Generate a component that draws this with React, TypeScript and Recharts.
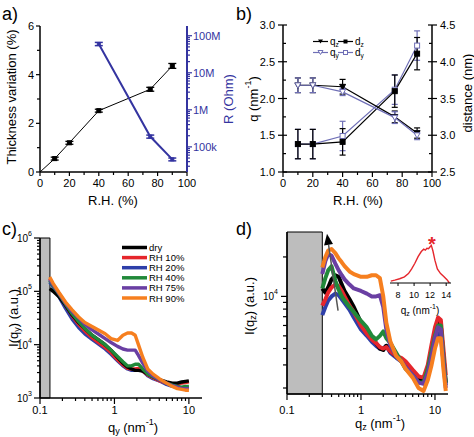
import React from 'react';
import { ComposedChart, LineChart, Line, XAxis, YAxis, ErrorBar, ReferenceArea, ReferenceLine } from 'recharts';

const W = 474;
const H = 437;
const FONT = '"Liberation Sans", Arial, Helvetica, sans-serif';

// ---------------- Panel a ----------------
const RH_A = [0, 10, 20, 40, 75, 90];
const THICKNESS = [0, 0.55, 1.2, 2.52, 3.4, 4.36];
const THICKNESS_ERR = [0, 0.06, 0.06, 0.06, 0.08, 0.1];
const RH_R = [40, 75, 90];
const RESISTANCE = [6.0e7, 1.9e5, 4.6e4];
const RESISTANCE_ERR = [6e6, 1.8e4, 4e3];
const A_X_TICKS = [0, 10, 20, 30, 40, 50, 60, 70, 80, 90, 100];
const A_Y_TICKS = [0, 1, 2, 3, 4, 5, 6];
const R_TICK_LABELS = ['100k', '1M', '10M', '100M'];

// ---------------- Panel b ----------------
const RH_B = [10, 20, 40, 75, 90];
const QZ = [2.18, 2.18, 2.16, 1.75, 1.53];
const QZ_ERR = [0.1, 0.1, 0.1, 0.08, 0.07];
const QY = [2.18, 2.18, 2.09, 1.74, 1.5];
const QY_ERR = [0.1, 0.1, 0.05, 0.08, 0.06];
const DZ = [2.88, 2.88, 2.91, 3.6, 4.11];
const DZ_ERR = [0.2, 0.2, 0.18, 0.22, 0.22];
const DY = [2.88, 2.88, 2.99, 3.62, 4.22];
const DY_ERR = [0.2, 0.2, 0.2, 0.2, 0.2];
const B_X_TICKS = [0, 10, 20, 30, 40, 50, 60, 70, 80, 90, 100];
const B_Q_TICKS = [1, 1.25, 1.5, 1.75, 2, 2.25, 2.5, 2.75, 3];
const B_D_TICKS = [2.5, 2.75, 3, 3.25, 3.5, 3.75, 4, 4.25, 4.5];

// ---------------- Panel c ----------------
const C_Q = [0.135, 0.15, 0.18, 0.22, 0.27, 0.33, 0.4, 0.5, 0.6, 0.75, 0.9, 1.1, 1.3, 1.5, 1.7, 1.9, 2.1, 2.4, 2.8, 3.3, 4, 5, 6, 7, 8, 9, 10];
const C_DRY = [1.12e5, 1.0e5, 7.9e4, 5.5e4, 3.6e4, 2.6e4, 2.0e4, 1.5e4, 1.26e4, 1.0e4, 7.9e3, 5.8e3, 4.5e3, 3.8e3, 3.5e3, 3.3e3, 3.3e3, 3.2e3, 2.8e3, 2.5e3, 2.2e3, 2.0e3, 1.9e3, 1.9e3, 2.0e3, 2.05e3, 2.1e3];
const C_RH10 = [1.74e5, 1.32e5, 8.9e4, 5.5e4, 3.5e4, 2.4e4, 1.8e4, 1.35e4, 1.12e4, 8.9e3, 7.1e3, 5.2e3, 4.2e3, 3.6e3, 3.5e3, 3.5e3, 3.6e3, 3.2e3, 2.7e3, 2.4e3, 2.1e3, 1.9e3, 1.8e3, 1.85e3, 1.9e3, 1.95e3, 2.0e3];
const C_RH20 = [1.5e5, 1.2e5, 7.9e4, 4.8e4, 3.0e4, 2.1e4, 1.6e4, 1.26e4, 1.05e4, 8.3e3, 6.6e3, 5.0e3, 4.0e3, 3.5e3, 3.3e3, 3.3e3, 3.5e3, 3.2e3, 2.6e3, 2.3e3, 2.1e3, 1.8e3, 1.65e3, 1.6e3, 1.55e3, 1.55e3, 1.55e3];
const C_RH40 = [1.6e5, 1.26e5, 8.9e4, 5.8e4, 3.8e4, 2.7e4, 2.0e4, 1.5e4, 1.26e4, 1.0e4, 7.9e3, 6.0e3, 4.8e3, 4.0e3, 4.0e3, 4.3e3, 4.3e3, 3.5e3, 2.8e3, 2.5e3, 2.2e3, 1.9e3, 1.75e3, 1.65e3, 1.6e3, 1.65e3, 1.65e3];
const C_RH75 = [1.66e5, 1.32e5, 9.1e4, 6.0e4, 4.2e4, 3.2e4, 2.4e4, 1.9e4, 1.6e4, 1.3e4, 1.1e4, 9.3e3, 8.3e3, 7.9e3, 7.9e3, 7.9e3, 6.3e3, 4.5e3, 3.2e3, 2.6e3, 2.2e3, 1.9e3, 1.7e3, 1.6e3, 1.5e3, 1.5e3, 1.5e3];
const C_RH90 = [1.86e5, 1.41e5, 9.5e4, 6.3e4, 4.5e4, 3.3e4, 2.6e4, 2.2e4, 1.9e4, 1.6e4, 1.3e4, 1.2e4, 1.5e4, 1.65e4, 1.65e4, 1.5e4, 1.0e4, 5.8e3, 3.5e3, 2.8e3, 2.3e3, 1.9e3, 1.65e3, 1.5e3, 1.45e3, 1.4e3, 1.4e3];

// ---------------- Panel d ----------------
const D_Q = [0.3, 0.33, 0.36, 0.4, 0.45, 0.5, 0.55, 0.6, 0.7, 0.8, 1.0, 1.2, 1.4, 1.6, 1.8, 2.0, 2.2, 2.5, 3, 3.5, 4, 5, 6, 7, 8, 9, 10, 11, 12, 13, 14];
const D_DRY = [1.15e4, 1.07e4, 1.17e4, 1.35e4, 1.45e4, 1.41e4, 1.23e4, 1.1e4, 9.5e3, 8.3e3, 6.3e3, 5.4e3, 4.8e3, 4.4e3, 4.0e3, 3.9e3, 4.2e3, 3.8e3, 3.5e3, 3.3e3, 3.0e3, 2.6e3, 2.35e3, 2.3e3, 2.8e3, 4.0e3, 5.2e3, 6.3e3, 6.0e3, 3.5e3, 2.2e3];
const D_RH10 = [8.5e3, 9.5e3, 1.07e4, 1.17e4, 1.23e4, 1.2e4, 1.1e4, 1.0e4, 8.5e3, 7.6e3, 6.0e3, 5.2e3, 4.7e3, 4.4e3, 4.1e3, 4.0e3, 4.1e3, 3.8e3, 3.5e3, 3.4e3, 3.2e3, 2.75e3, 2.45e3, 2.4e3, 3.0e3, 4.3e3, 5.8e3, 6.9e3, 6.6e3, 4.0e3, 2.5e3];
const D_RH20 = [7.2e3, 8.3e3, 9.3e3, 1.0e4, 1.05e4, 1.02e4, 9.5e3, 8.9e3, 7.9e3, 6.9e3, 5.6e3, 5.0e3, 4.5e3, 4.2e3, 4.0e3, 4.0e3, 4.2e3, 3.7e3, 3.4e3, 3.2e3, 2.95e3, 2.6e3, 2.35e3, 2.3e3, 2.75e3, 3.6e3, 4.6e3, 5.2e3, 5.0e3, 3.2e3, 2.1e3];
const D_RH40 = [1.15e4, 1.38e4, 1.58e4, 1.7e4, 1.32e4, 1.12e4, 1.0e4, 9.3e3, 8.3e3, 7.6e3, 6.5e3, 5.8e3, 5.0e3, 4.7e3, 5.0e3, 5.4e3, 4.8e3, 4.4e3, 3.7e3, 3.2e3, 2.8e3, 2.5e3, 2.2e3, 2.2e3, 2.8e3, 3.8e3, 5.0e3, 6.0e3, 6.0e3, 3.5e3, 2.2e3];
const D_RH75 = [1.48e4, 1.86e4, 2.1e4, 2.05e4, 1.78e4, 1.58e4, 1.45e4, 1.35e4, 1.23e4, 1.15e4, 1.1e4, 1.05e4, 1.0e4, 1.0e4, 1.02e4, 8.3e3, 5.6e3, 4.2e3, 3.5e3, 3.2e3, 2.9e3, 2.5e3, 2.2e3, 2.15e3, 2.6e3, 3.5e3, 4.8e3, 5.8e3, 5.6e3, 3.2e3, 2.0e3];
const D_RH90 = [1.66e4, 2.0e4, 2.24e4, 2.3e4, 2.14e4, 1.95e4, 1.82e4, 1.7e4, 1.55e4, 1.48e4, 1.41e4, 1.41e4, 1.45e4, 1.45e4, 1.38e4, 1.0e4, 6.3e3, 4.5e3, 3.5e3, 3.2e3, 2.8e3, 2.4e3, 2.0e3, 1.9e3, 2.3e3, 3.0e3, 4.0e3, 4.8e3, 4.8e3, 2.8e3, 1.9e3];

// inset of d
const INSET_Q = [7.1, 7.6, 8.2, 8.8, 9.3, 9.7, 10.1, 10.5, 10.9, 11.2, 11.4, 11.6, 11.8, 12.0, 12.15, 12.35, 12.6, 12.9, 13.3, 13.7, 14.1, 14.4];
const INSET_I = [0.04, 0.06, 0.09, 0.13, 0.2, 0.3, 0.42, 0.56, 0.67, 0.72, 0.7, 0.74, 0.73, 0.77, 0.8, 0.68, 0.48, 0.3, 0.2, 0.14, 0.07, 0.0];
const INSET_X_TICKS = [8, 10, 12, 14];
const INSET_Y_TICKS = [0.12, 0.26, 0.4, 0.54, 0.68, 0.82, 0.96];

const SERIES = [
  { key: 'dry', name: 'dry', color: '#000000' },
  { key: 'rh10', name: 'RH 10%', color: '#e5262c' },
  { key: 'rh20', name: 'RH 20%', color: '#2e3fa9' },
  { key: 'rh40', name: 'RH 40%', color: '#21893a' },
  { key: 'rh75', name: 'RH 75%', color: '#6a3fa3' },
  { key: 'rh90', name: 'RH 90%', color: '#f67f1f' },
];

const BLUE_A = '#3434a0';
const BLUE_B = '#6f6fb6';

// ---------- helpers ----------
function logTicks(lo: number, hi: number): number[] {
  const out: number[] = [];
  for (let e = Math.floor(Math.log10(lo)); e <= Math.ceil(Math.log10(hi)); e++) {
    for (let m = 1; m <= 9; m++) {
      const v = m * Math.pow(10, e);
      if (v >= lo * 0.999 && v <= hi * 1.001) out.push(v);
    }
  }
  return out;
}
const isPow10 = (v: number) => Math.abs(Math.log10(v) - Math.round(Math.log10(v))) < 1e-6;

type Side = 'left' | 'right' | 'bottom' | 'top';
interface TickCfg {
  side: Side;
  isMajor: (v: number) => boolean;
  label?: (v: number) => React.ReactNode;
  majorOut?: number;
  majorIn?: number;
  minorOut?: number;
  minorIn?: number;
  labelOffset?: number;
  color?: string;
  fontSize?: number;
  strokeWidth?: number;
}
function makeTick(cfg: TickCfg) {
  const {
    side, isMajor, label, majorOut = 5, majorIn = 0, minorOut = 3, minorIn = 0,
    labelOffset = 8, color = '#000', fontSize = 11, strokeWidth = 1.2,
  } = cfg;
  return (props: any) => {
    const x = Number(props.x);
    const y = Number(props.y);
    const v = Number(props.payload?.value);
    const maj = isMajor(v);
    const o = maj ? majorOut : minorOut;
    const i = maj ? majorIn : minorIn;
    const lab = maj && label ? label(v) : null;
    let line: React.ReactNode = null;
    let text: React.ReactNode = null;
    if (side === 'left') {
      line = <line x1={x - o} x2={x + i} y1={y} y2={y} />;
      if (lab !== null) text = <text x={x - labelOffset} y={y} textAnchor="end" dominantBaseline="central">{lab}</text>;
    } else if (side === 'right') {
      line = <line x1={x - i} x2={x + o} y1={y} y2={y} />;
      if (lab !== null) text = <text x={x + labelOffset} y={y} textAnchor="start" dominantBaseline="central">{lab}</text>;
    } else if (side === 'bottom') {
      line = <line x1={x} x2={x} y1={y - i} y2={y + o} />;
      if (lab !== null) text = <text x={x} y={y + labelOffset} textAnchor="middle" dominantBaseline="central">{lab}</text>;
    } else {
      line = <line x1={x} x2={x} y1={y - o} y2={y + i} />;
    }
    return (
      <g>
        <g stroke={color} strokeWidth={strokeWidth}>{line}</g>
        {text ? <g fill={color} stroke="none" fontSize={fontSize} fontFamily={FONT}>{text}</g> : null}
      </g>
    );
  };
}

const pow10Label = (v: number) => {
  const e = Math.round(Math.log10(v));
  return (
    <>
      <tspan>10</tspan>
      <tspan dy={-5} fontSize={7}>{e}</tspan>
    </>
  );
};
const qLabel = (v: number) => (v < 1 ? String(Math.round(v * 10) / 10) : String(Math.round(v)));

const squareDot = (color: string, size: number, open: boolean) => (p: any) => {
  if (p.cx == null || p.cy == null || (p.payload && p.payload.hideDot)) return <g key={`sd${p.index}`} />;
  return (
    <rect key={`sd${p.index}`} x={p.cx - size / 2} y={p.cy - size / 2} width={size} height={size}
      fill={open ? '#fff' : color} stroke={color} strokeWidth={1} />
  );
};
const triDot = (color: string, size: number, open: boolean) => (p: any) => {
  if (p.cx == null || p.cy == null) return <g key={`td${p.index}`} />;
  const s = size / 2;
  return (
    <path key={`td${p.index}`} d={`M${p.cx - s},${p.cy - s * 0.8}L${p.cx + s},${p.cy - s * 0.8}L${p.cx},${p.cy + s}Z`}
      fill={open ? '#fff' : color} stroke={color} strokeWidth={1} />
  );
};

const axisBlack = { stroke: '#000', strokeWidth: 1.5 };

// ---------- data tables ----------
const aThick = RH_A.map((x, i) => ({ x, y: THICKNESS[i], e: THICKNESS_ERR[i], hideDot: i === 0 }));
const aRes = RH_R.map((x, i) => ({ x, y: RESISTANCE[i], e: RESISTANCE_ERR[i] }));
const bQz = RH_B.map((x, i) => ({ x, y: QZ[i], e: QZ_ERR[i] }));
const bQy = RH_B.map((x, i) => ({ x, y: QY[i], e: QY_ERR[i] }));
const bDz = RH_B.map((x, i) => ({ x, y: DZ[i], e: DZ_ERR[i] }));
const bDy = RH_B.map((x, i) => ({ x, y: DY[i], e: DY_ERR[i] }));
const cData = C_Q.map((x, i) => ({ x, dry: C_DRY[i], rh10: C_RH10[i], rh20: C_RH20[i], rh40: C_RH40[i], rh75: C_RH75[i], rh90: C_RH90[i] }));
const dData = D_Q.map((x, i) => ({ x, dry: D_DRY[i], rh10: D_RH10[i], rh20: D_RH20[i], rh40: D_RH40[i], rh75: D_RH75[i], rh90: D_RH90[i] }));
const insetData = INSET_Q.map((x, i) => ({ x, y: INSET_I[i] }));

const R_DOMAIN: [number, number] = [21000, 1.83e8];
const R_TICKS = logTicks(R_DOMAIN[0], R_DOMAIN[1]);
const C_X_TICKS = logTicks(0.1, 10);
const C_Y_TICKS = logTicks(1000, 1e6);
const D_Y_DOMAIN: [number, number] = [1800, 31000];
const D_Y_TICKS = logTicks(2000, 20000);

const layer: React.CSSProperties = { position: 'absolute', left: 0, top: 0 };

function PanelA() {
  return (
    <div style={layer}>
      <ComposedChart width={W} height={H} margin={{ top: 26, left: 10, right: 247, bottom: 245 }}>
        <XAxis xAxisId="b" dataKey="x" type="number" domain={[0, 100]} ticks={A_X_TICKS} interval={0}
          height={20} tickSize={0} tickMargin={0} tickLine={false} axisLine={axisBlack} allowDataOverflow
          tick={makeTick({ side: 'bottom', isMajor: (v) => v % 20 === 0, label: (v) => String(v), majorOut: 4, minorOut: 3, labelOffset: 11 })} />
        <XAxis xAxisId="t" orientation="top" dataKey="x" type="number" domain={[0, 100]} ticks={A_X_TICKS} interval={0}
          height={0} tickSize={0} tickMargin={0} tickLine={false} axisLine={axisBlack} allowDataOverflow
          tick={makeTick({ side: 'top', isMajor: () => false, minorOut: 0, minorIn: 3 })} />
        <YAxis yAxisId="l" type="number" domain={[0, 6]} ticks={A_Y_TICKS} interval={0} width={30}
          tickSize={0} tickMargin={0} tickLine={false} axisLine={axisBlack} allowDataOverflow
          tick={makeTick({ side: 'left', isMajor: (v) => v % 2 === 0, label: (v) => String(v), majorOut: 4, minorOut: 3, labelOffset: 6 })} />
        <YAxis yAxisId="r" orientation="right" type="number" scale="log" domain={R_DOMAIN} ticks={R_TICKS} interval={0} width={40}
          tickSize={0} tickMargin={0} tickLine={false} axisLine={{ stroke: BLUE_A, strokeWidth: 2 }} allowDataOverflow
          tick={makeTick({ side: 'right', isMajor: isPow10, label: (v) => R_TICK_LABELS[Math.round(Math.log10(v)) - 5], majorOut: 5, minorOut: 3, labelOffset: 6, color: BLUE_A, fontSize: 11 })} />
        <Line xAxisId="b" yAxisId="l" data={aThick} dataKey="y" stroke="#000" strokeWidth={1} isAnimationActive={false}
          dot={squareDot('#000', 4, false)}>
          <ErrorBar dataKey="e" width={4} stroke="#000" strokeWidth={1.3} direction="y" />
        </Line>
        <Line xAxisId="b" yAxisId="r" data={aRes} dataKey="y" stroke={BLUE_A} strokeWidth={2} isAnimationActive={false}
          dot={squareDot(BLUE_A, 3, false)}>
          <ErrorBar dataKey="e" width={4} stroke={BLUE_A} strokeWidth={1.5} direction="y" />
        </Line>
      </ComposedChart>
    </div>
  );
}

function PanelB() {
  return (
    <div style={layer}>
      <ComposedChart width={W} height={H} margin={{ top: 25, left: 253, right: 2, bottom: 245 }}>
        <XAxis xAxisId="b" dataKey="x" type="number" domain={[0, 100]} ticks={B_X_TICKS} interval={0}
          height={20} tickSize={0} tickMargin={0} tickLine={false} axisLine={axisBlack} allowDataOverflow
          tick={makeTick({ side: 'bottom', isMajor: (v) => v % 20 === 0, label: (v) => String(v), majorOut: 5, minorOut: 3, labelOffset: 11 })} />
        <XAxis xAxisId="t" orientation="top" dataKey="x" type="number" domain={[0, 100]} ticks={B_X_TICKS} interval={0}
          height={0} tickSize={0} tickMargin={0} tickLine={false} axisLine={axisBlack} allowDataOverflow
          tick={makeTick({ side: 'top', isMajor: () => false, minorOut: 0, minorIn: 4 })} />
        <YAxis yAxisId="l" type="number" domain={[1, 3]} ticks={B_Q_TICKS} interval={0} width={30}
          tickSize={0} tickMargin={0} tickLine={false} axisLine={axisBlack} allowDataOverflow
          tick={makeTick({ side: 'left', isMajor: (v) => Math.abs(v * 2 - Math.round(v * 2)) < 1e-6, label: (v) => v.toFixed(1), majorOut: 5, majorIn: 4, minorOut: 0, minorIn: 3, labelOffset: 8 })} />
        <YAxis yAxisId="r" orientation="right" type="number" domain={[2.5, 4.5]} ticks={B_D_TICKS} interval={0} width={40}
          tickSize={0} tickMargin={0} tickLine={false} axisLine={axisBlack} allowDataOverflow
          tick={makeTick({ side: 'right', isMajor: (v) => Math.abs(v * 2 - Math.round(v * 2)) < 1e-6, label: (v) => v.toFixed(1), majorOut: 5, majorIn: 4, minorOut: 0, minorIn: 3, labelOffset: 8 })} />
        <Line xAxisId="b" yAxisId="r" data={bDy} dataKey="y" stroke={BLUE_B} strokeWidth={1.2} isAnimationActive={false}
          dot={squareDot(BLUE_B, 5, true)}>
          <ErrorBar dataKey="e" width={3} stroke={BLUE_B} strokeWidth={1.2} direction="y" />
        </Line>
        <Line xAxisId="b" yAxisId="r" data={bDz} dataKey="y" stroke="#000" strokeWidth={1.2} isAnimationActive={false}
          dot={squareDot('#000', 5, false)}>
          <ErrorBar dataKey="e" width={3} stroke="#000" strokeWidth={1.2} direction="y" />
        </Line>
        <Line xAxisId="b" yAxisId="l" data={bQz} dataKey="y" stroke="#000" strokeWidth={1.2} isAnimationActive={false}
          dot={triDot('#000', 6, false)}>
          <ErrorBar dataKey="e" width={3} stroke="#000" strokeWidth={1.2} direction="y" />
        </Line>
        <Line xAxisId="b" yAxisId="l" data={bQy} dataKey="y" stroke={BLUE_B} strokeWidth={1.2} isAnimationActive={false}
          dot={triDot(BLUE_B, 6, true)}>
          <ErrorBar dataKey="e" width={3} stroke={BLUE_B} strokeWidth={1.2} direction="y" />
        </Line>
      </ComposedChart>
    </div>
  );
}

function PanelC() {
  const order = ['rh20', 'rh10', 'dry', 'rh40', 'rh75', 'rh90'];
  return (
    <div style={layer}>
      <ComposedChart width={W} height={H} data={cData} margin={{ top: 238, left: 10, right: 272, bottom: 19 }}>
        <XAxis dataKey="x" type="number" scale="log" domain={[0.1, 15]} ticks={C_X_TICKS} interval={0}
          height={20} tickSize={0} tickMargin={0} tickLine={false} axisLine={axisBlack} allowDataOverflow
          tick={makeTick({ side: 'bottom', isMajor: isPow10, label: qLabel, majorOut: 6, minorOut: 3, labelOffset: 12 })} />
        <YAxis type="number" scale="log" domain={[1000, 1e6]} ticks={C_Y_TICKS} interval={0} width={30}
          tickSize={0} tickMargin={0} tickLine={false} axisLine={axisBlack} allowDataOverflow
          tick={makeTick({ side: 'left', isMajor: isPow10, label: pow10Label, majorOut: 6, minorOut: 3, labelOffset: 8, fontSize: 10 })} />
        <ReferenceArea x1={0.1} x2={0.136} y1={1000} y2={1e6} fill="#bdbdbd" fillOpacity={1} stroke="#000" strokeWidth={1} ifOverflow="visible" />
        {order.map((k) => {
          const s = SERIES.find((q) => q.key === k)!;
          return <Line key={k} dataKey={k} stroke={s.color} strokeWidth={3.4} dot={false} isAnimationActive={false} strokeLinejoin="round" />;
        })}
      </ComposedChart>
    </div>
  );
}

function PanelD() {
  const order = ['rh20', 'dry', 'rh10', 'rh40', 'rh75', 'rh90'];
  return (
    <div style={layer}>
      <ComposedChart width={W} height={H} data={dData} margin={{ top: 232, left: 257, right: 26, bottom: 23 }}>
        <XAxis dataKey="x" type="number" scale="log" domain={[0.1, 15]} ticks={C_X_TICKS} interval={0}
          height={20} tickSize={0} tickMargin={0} tickLine={false} axisLine={axisBlack} allowDataOverflow
          tick={makeTick({ side: 'bottom', isMajor: isPow10, label: qLabel, majorOut: 6, minorOut: 3, labelOffset: 16 })} />
        <YAxis type="number" scale="log" domain={D_Y_DOMAIN} ticks={D_Y_TICKS} interval={0} width={30}
          tickSize={0} tickMargin={0} tickLine={false} axisLine={axisBlack} allowDataOverflow
          tick={makeTick({ side: 'left', isMajor: (v) => Math.abs(v - 10000) < 1, label: pow10Label, majorOut: 6, minorOut: 4, labelOffset: 9, fontSize: 10 })} />
        <ReferenceArea x1={0.1} x2={0.3} y1={D_Y_DOMAIN[0]} y2={D_Y_DOMAIN[1]} fill="#bdbdbd" fillOpacity={1} stroke="#000" strokeWidth={1} ifOverflow="visible" />
        {order.map((k) => {
          const s = SERIES.find((q) => q.key === k)!;
          return <Line key={k} dataKey={k} stroke={s.color} strokeWidth={4} dot={false} isAnimationActive={false} strokeLinejoin="round" />;
        })}
        <ReferenceLine
          segment={[{ x: 0.49, y: 7800 }, { x: 0.347, y: 30000 }]}
          shape={(p: any) => {
            const { x1, y1, x2, y2 } = p;
            const dx = x2 - x1, dy = y2 - y1;
            const L = Math.sqrt(dx * dx + dy * dy) || 1;
            const ux = dx / L, uy = dy / L;
            const hl = 11, hw = 4.5;
            const bx = x2 - ux * hl, by = y2 - uy * hl;
            return (
              <g>
                <line x1={x1} y1={y1} x2={bx} y2={by} stroke="#555" strokeWidth={1.5} />
                <path d={`M${x2},${y2}L${bx - uy * hw},${by + ux * hw}L${bx + uy * hw},${by - ux * hw}Z`} fill="#000" />
              </g>
            );
          }}
        />
      </ComposedChart>
    </div>
  );
}

function Inset() {
  return (
    <div style={layer}>
      <LineChart width={W} height={H} data={insetData} margin={{ top: 236, left: 390, right: 23, bottom: 140 }}>
        <XAxis dataKey="x" type="number" domain={[7, 14.6]} ticks={INSET_X_TICKS} interval={0}
          height={14} tickSize={0} tickMargin={0} tickLine={false} axisLine={{ stroke: '#000', strokeWidth: 1 }} allowDataOverflow
          tick={makeTick({ side: 'bottom', isMajor: () => true, label: (v) => String(v), majorOut: 3, labelOffset: 12, fontSize: 9, strokeWidth: 1 })} />
        <YAxis type="number" domain={[0, 1]} ticks={INSET_Y_TICKS} interval={0} width={0}
          tickSize={0} tickMargin={0} tickLine={false} axisLine={{ stroke: '#000', strokeWidth: 1 }} allowDataOverflow
          tick={makeTick({ side: 'left', isMajor: () => false, minorOut: 0, minorIn: 3, strokeWidth: 1 })} />
        <Line dataKey="y" stroke="#e5262c" strokeWidth={1.4} dot={false} isAnimationActive={false} />
      </LineChart>
    </div>
  );
}

const QSub = ({ sub, fs }: { sub: string; fs: number }) => (
  <>
    <tspan>q</tspan>
    <tspan dy={fs * 0.3} fontSize={fs * 0.7}>{sub}</tspan>
    <tspan dy={-fs * 0.3}> (nm</tspan>
    <tspan dy={-fs * 0.4} fontSize={fs * 0.7}>-1</tspan>
    <tspan dy={fs * 0.4}>)</tspan>
  </>
);

function Overlay() {
  const fsT = 13;
  const rot = (x: number, y: number) => `rotate(-90 ${x} ${y})`;
  return (
    <svg width={W} height={H} style={{ ...layer, pointerEvents: 'none' }} fontFamily={FONT}>
      {/* panel labels */}
      <text x={2} y={20} fontSize={18}>a)</text>
      <text x={236} y={20} fontSize={18}>b)</text>
      <text x={2} y={235} fontSize={18}>c)</text>
      <text x={236} y={235} fontSize={18}>d)</text>

      {/* panel a titles */}
      <text x={11} y={97} transform={rot(11, 97)} textAnchor="middle" dominantBaseline="central" fontSize={fsT}>Thickness variation (%)</text>
      <text x={113} y={200} textAnchor="middle" dominantBaseline="central" fontSize={fsT}>R.H. (%)</text>
      <text x={228} y={99} transform={rot(228, 99)} textAnchor="middle" dominantBaseline="central" fontSize={fsT} fill={BLUE_A}>R (Ohm)</text>

      {/* panel b titles */}
      <text x={253} y={99} transform={rot(253, 99)} textAnchor="middle" dominantBaseline="central" fontSize={fsT}>
        <tspan>q (nm</tspan><tspan dy={-5} fontSize={9}>-1</tspan><tspan dy={5}>)</tspan>
      </text>
      <text x={467} y={93} transform={rot(467, 93)} textAnchor="middle" dominantBaseline="central" fontSize={fsT}>distance (nm)</text>
      <text x={358} y={200} textAnchor="middle" dominantBaseline="central" fontSize={fsT}>R.H. (%)</text>

      {/* panel b legend */}
      <g fontSize={10}>
        <line x1={313} x2={328} y1={41.5} y2={41.5} stroke="#000" strokeWidth={1.2} />
        <path d="M318,39.5L323,39.5L320.5,43.5Z" fill="#000" />
        <text x={330} y={44.5}><tspan>q</tspan><tspan dy={2} fontSize={6.5}>z</tspan></text>
        <line x1={338} x2={353} y1={41.5} y2={41.5} stroke="#000" strokeWidth={1.2} />
        <rect x={343.5} y={39.5} width={4} height={4} fill="#000" />
        <text x={355} y={44.5}><tspan>d</tspan><tspan dy={2} fontSize={6.5}>z</tspan></text>
        <line x1={313} x2={328} y1={52.5} y2={52.5} stroke={BLUE_B} strokeWidth={1.2} />
        <path d="M318,50.5L323,50.5L320.5,54.5Z" fill="#fff" stroke={BLUE_B} />
        <text x={330} y={55.5}><tspan>q</tspan><tspan dy={2} fontSize={6.5}>y</tspan></text>
        <line x1={338} x2={353} y1={52.5} y2={52.5} stroke={BLUE_B} strokeWidth={1.2} />
        <rect x={343.5} y={50.5} width={4} height={4} fill="#fff" stroke={BLUE_B} />
        <text x={355} y={55.5}><tspan>d</tspan><tspan dy={2} fontSize={6.5}>y</tspan></text>
      </g>

      {/* panel c titles */}
      <text x={13} y={318} transform={rot(13, 318)} textAnchor="middle" dominantBaseline="central" fontSize={fsT}>
        <tspan>I(q</tspan><tspan dy={4} fontSize={9}>y</tspan><tspan dy={-4}>) (a.u.)</tspan>
      </text>
      <text x={133} y={427} textAnchor="middle" dominantBaseline="central" fontSize={fsT}><QSub sub="y" fs={fsT} /></text>

      {/* panel c legend */}
      <g fontSize={9.5}>
        {SERIES.map((s, i) => (
          <g key={s.key}>
            <line x1={122} x2={147} y1={247.5 + i * 10.1} y2={247.5 + i * 10.1} stroke={s.color} strokeWidth={3.5} />
            <text x={149} y={247.5 + i * 10.1} dominantBaseline="central">{s.name}</text>
          </g>
        ))}
      </g>

      {/* panel d titles */}
      <text x={249} y={306} transform={rot(249, 306)} textAnchor="middle" dominantBaseline="central" fontSize={fsT}>
        <tspan>I(q</tspan><tspan dy={4} fontSize={9}>z</tspan><tspan dy={-4}>) (a.u.)</tspan>
      </text>
      <text x={380} y={423} textAnchor="middle" dominantBaseline="central" fontSize={fsT}><QSub sub="z" fs={fsT} /></text>
      <text x={420} y={310} textAnchor="middle" dominantBaseline="central" fontSize={10}><QSub sub="z" fs={10} /></text>
      <text x={432} y={251} textAnchor="middle" fontSize={20} fontWeight="bold" fill="#e5262c">*</text>
    </svg>
  );
}

export default function App() {
  return (
    <div style={{ position: 'absolute', left: 0, top: 0, width: W, height: H, background: '#fff', fontFamily: FONT, overflow: 'hidden' }}>
      <PanelA />
      <PanelB />
      <PanelC />
      <PanelD />
      <Inset />
      <Overlay />
    </div>
  );
}
